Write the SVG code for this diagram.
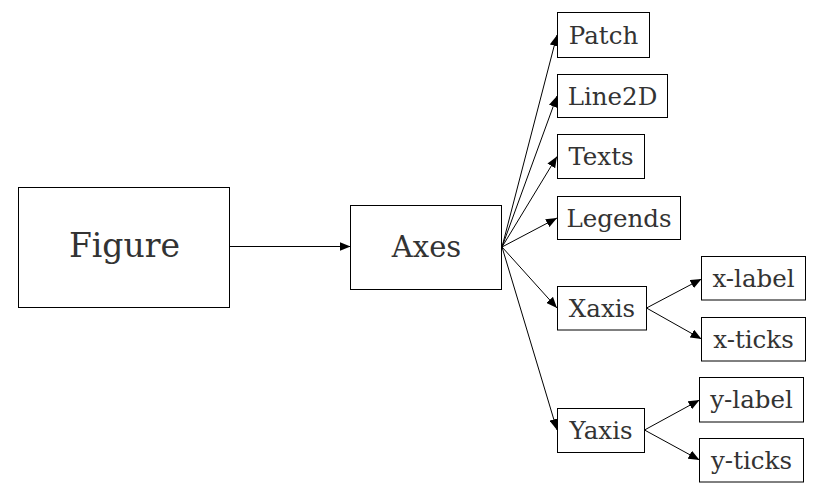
<svg xmlns="http://www.w3.org/2000/svg" width="824" height="494" viewBox="0 0 824 494">
<defs>
<marker id="ah" markerUnits="userSpaceOnUse" markerWidth="11" markerHeight="9" refX="11" refY="4.5" orient="auto">
<path d="M0,0 L11,4.5 L0,9 z" fill="#000"/>
</marker>
<style>
.box{fill:#fff;stroke:#000;stroke-width:1}
.lbl{font-family:"DejaVu Serif",serif;fill:#333;text-anchor:middle}
.s{font-size:24.5px}
.edge{fill:none;stroke:#000;stroke-width:1;marker-end:url(#ah)}
</style>
</defs>
<rect width="824" height="494" fill="#fff"/>
<g id="connectors">
<path class="edge" d="M229.5,246.5 L350.5,246.5"/>
<path class="edge" d="M502,247 L557,35"/>
<path class="edge" d="M502,247 L557,96"/>
<path class="edge" d="M502,247 L557,156.5"/>
<path class="edge" d="M502,247 L557,218"/>
<path class="edge" d="M502,247 L557,308"/>
<path class="edge" d="M502,247 L557,430"/>
<path class="edge" d="M646.5,308 L701.5,279"/>
<path class="edge" d="M646.5,308 L701.5,339"/>
<path class="edge" d="M644.5,430 L699.5,400"/>
<path class="edge" d="M644.5,430 L699.5,460"/>
</g>
<g id="figure"><rect class="box" x="18.5" y="187.5" width="211" height="120"/><text class="lbl" x="124.5" y="256.5" font-size="33">Figure</text></g>
<g id="axes"><rect class="box" x="350.5" y="205.5" width="151" height="84"/><text class="lbl" x="426.5" y="256.5" font-size="29">Axes</text></g>
<g id="patch"><rect class="box" x="557.5" y="12.5" width="92" height="45"/><text class="lbl s" x="603.5" y="43.5">Patch</text></g>
<g id="line2d"><rect class="box" x="557.5" y="74.5" width="110" height="43"/><text class="lbl s" x="612.5" y="104.5">Line2D</text></g>
<g id="texts"><rect class="box" x="557.5" y="134.5" width="87" height="44"/><text class="lbl s" x="601" y="165">Texts</text></g>
<g id="legends"><rect class="box" x="557.5" y="196.5" width="123" height="43"/><text class="lbl s" x="619" y="226.5">Legends</text></g>
<g id="xaxis"><rect class="box" x="557.5" y="286.5" width="89" height="43.5"/><text class="lbl s" x="602" y="316.7">Xaxis</text></g>
<g id="xlabel"><rect class="box" x="701.5" y="256.5" width="104" height="43.5"/><text class="lbl s" x="753.5" y="286.7">x-label</text></g>
<g id="xticks"><rect class="box" x="701.5" y="317.5" width="104" height="43.5"/><text class="lbl s" x="753.5" y="347.7">x-ticks</text></g>
<g id="yaxis"><rect class="box" x="557.5" y="408.5" width="87" height="44"/><text class="lbl s" x="601" y="439">Yaxis</text></g>
<g id="ylabel"><rect class="box" x="699.5" y="377.5" width="104" height="44.5"/><text class="lbl s" x="751.5" y="408.2">y-label</text></g>
<g id="yticks"><rect class="box" x="699.5" y="438.5" width="104" height="43.5"/><text class="lbl s" x="751.5" y="468.7">y-ticks</text></g>
</svg>
